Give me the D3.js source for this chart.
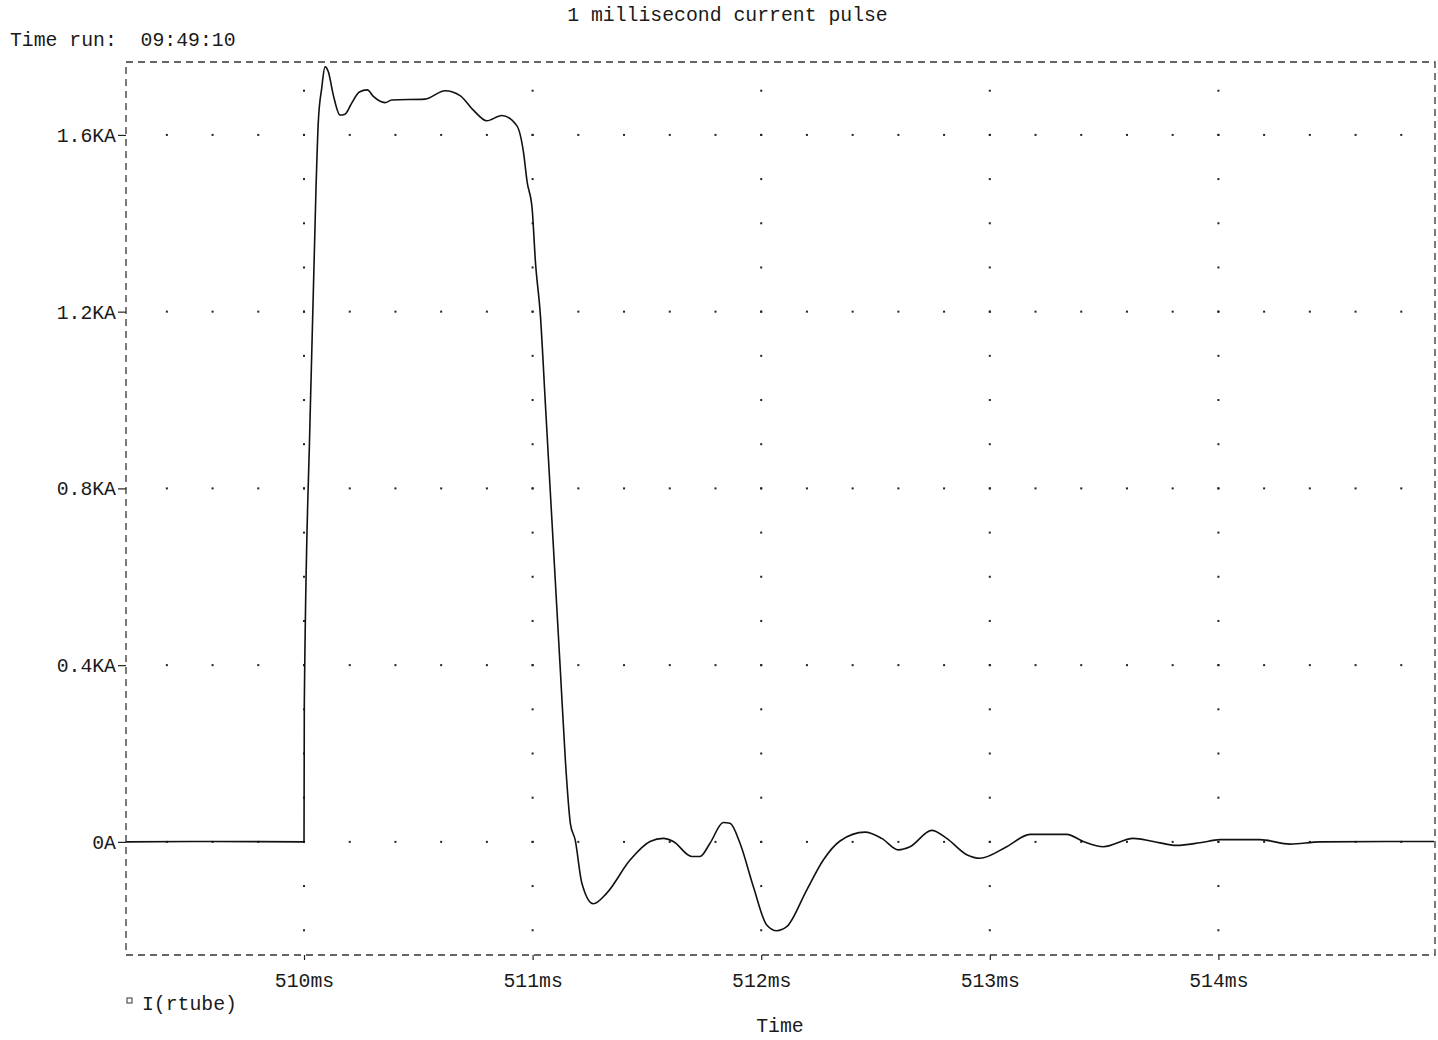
<!DOCTYPE html>
<html>
<head>
<meta charset="utf-8">
<script src="https://cdn.jsdelivr.net/npm/d3@7"></script>
<style>
  html, body { margin: 0; padding: 0; background: #fff; }
  svg text { font-family: "Liberation Mono", "Courier New", monospace; fill: #1a1a1a; }
</style>
</head>
<body>
<svg id="chart" width="1438" height="1040"></svg>
<script>
// Simulated tube current I(rtube): time in ms, current in amperes
const timeMs = [
  509.22, 509.60, 510.000, 510.0013, 510.0263, 510.0525, 510.0626, 510.0775, 510.0919,
  510.1063, 510.1282, 510.1575, 510.1794, 510.2087, 510.2420, 510.2770, 510.3033,
  510.3545, 510.3838, 510.5295, 510.6171, 510.6827, 510.7409, 510.7996, 510.8652,
  510.9309, 510.9597, 510.9759, 510.9978, 511.0123, 511.0341, 511.0560, 511.0779,
  511.0998, 511.1217, 511.1435, 511.1654, 511.1860, 511.2153, 511.2656, 511.3242,
  511.4262, 511.5136, 511.5718, 511.6155, 511.6960, 511.7323, 511.7761, 511.8343,
  511.8636, 511.9073, 511.9655, 512.0241, 512.0679, 512.1116, 512.1991, 512.2717,
  512.3448, 512.4541, 512.5272, 512.5998, 512.6510, 512.7459, 512.8115, 512.8990,
  512.9571, 513.0739, 513.1759, 513.3365, 513.4091, 513.4966, 513.6278, 513.7153,
  513.8177, 513.9196, 514.0071, 514.1821, 514.3134, 514.4446, 514.9433
];
const currentA = [
  0, 1, 0, 310, 955, 1480, 1630, 1706, 1754,
  1743, 1690, 1645, 1647, 1672, 1697, 1702, 1687,
  1673, 1679, 1681, 1700, 1689, 1656, 1632, 1644,
  1621, 1562, 1494, 1434, 1313, 1191, 990, 788,
  586, 385, 183, 41, 5, -93, -140, -116,
  -41, 1, 8, 1, -33, -33, -3, 44,
  42, -3, -101, -188, -201, -192, -109, -41,
  2, 22, 8, -18, -11, 26, 8, -29,
  -37, -11, 17, 17, 1, -11, 8, 1,
  -8, -2, 5, 5, -5, 0, 1
];

// Axis ticks
const xTickValues = [510, 511, 512, 513, 514];
const xTickLabels = ["510ms", "511ms", "512ms", "513ms", "514ms"];
const yTickValues = [0, 400, 800, 1200, 1600];
const yTickLabels = ["0A", "0.4KA", "0.8KA", "1.2KA", "1.6KA"];

// Dotted grid steps
const xDotStep = 0.2;   // ms, along each major current level
const yDotStep = 100;   // A, along each major time mark

const titleText = "1 millisecond current pulse";
const runText = "Time run:  09:49:10";
const xAxisTitle = "Time";
const traceName = "I(rtube)";

const svg = d3.select("#chart");
const plot = { left: 126, right: 1435, top: 62, bottom: 955 };

const x = d3.scaleLinear().domain([509.2213, 514.9475]).range([plot.left, plot.right]);
const y = d3.scaleLinear().domain([-256, 1765]).range([plot.bottom, plot.top]);

const fontSize = "19.8px";

// Title and run stamp
svg.append("text").attr("x", 727.5).attr("y", 20.5)
  .attr("text-anchor", "middle").style("font-size", fontSize).text(titleText);
svg.append("text").attr("x", 10).attr("y", 45.5)
  .attr("xml:space", "preserve").style("white-space", "pre")
  .style("font-size", fontSize).text(runText);

// Dotted grid: rows of dots at major current levels, columns at major times
const dots = svg.append("g").attr("fill", "#222");
const [x0, x1] = x.domain();
const [y0, y1] = y.domain();
const xDots = d3.range(Math.ceil(x0 / xDotStep - 1e-9), Math.floor(x1 / xDotStep + 1e-9) + 1)
  .map(k => +(k * xDotStep).toFixed(4));
const yDots = d3.range(Math.ceil(y0 / yDotStep), Math.floor(y1 / yDotStep) + 1).map(k => k * yDotStep);
yTickValues.forEach(v => {
  xDots.forEach(t => {
    dots.append("rect").attr("x", x(t) - 1).attr("y", y(v) - 1).attr("width", 2).attr("height", 2);
  });
});
xTickValues.forEach(t => {
  yDots.forEach(v => {
    dots.append("rect").attr("x", x(t) - 1).attr("y", y(v) - 1).attr("width", 2).attr("height", 2);
  });
});

// Trace
const pts = timeMs.map((t, i) => [t, currentA[i]]);
const line = d3.line().x(d => x(d[0])).y(d => y(d[1])).curve(d3.curveMonotoneX);
svg.append("path").datum(pts)
  .attr("d", line)
  .attr("fill", "none").attr("stroke", "#111").attr("stroke-width", 1.6)
  .attr("stroke-linejoin", "round");

// Dashed frame
svg.append("rect")
  .attr("x", plot.left).attr("y", plot.top)
  .attr("width", plot.right - plot.left).attr("height", plot.bottom - plot.top)
  .attr("fill", "none").attr("stroke", "#333").attr("stroke-width", 1.3)
  .attr("stroke-dasharray", "7,5");

// Y axis (left)
const yAxis = d3.axisLeft(y).tickValues(yTickValues)
  .tickFormat((d, i) => yTickLabels[i]).tickSize(8).tickPadding(2);
const gy = svg.append("g").attr("transform", `translate(${plot.left},0)`).call(yAxis);
gy.select(".domain").remove();
gy.selectAll(".tick line").attr("stroke", "#222").attr("stroke-width", 1.2);
gy.selectAll(".tick text").style("font-size", fontSize).attr("dy", "0.33em")
  .attr("font-family", null).attr("fill", "#1a1a1a");

// X axis (bottom)
const xAxis = d3.axisBottom(x).tickValues(xTickValues)
  .tickFormat((d, i) => xTickLabels[i]).tickSize(5).tickPadding(13);
const gx = svg.append("g").attr("transform", `translate(0,${plot.bottom})`).call(xAxis);
gx.select(".domain").remove();
gx.selectAll(".tick line").attr("stroke", "#222").attr("stroke-width", 1.2);
gx.selectAll(".tick text").style("font-size", fontSize).attr("dy", "0.71em")
  .attr("font-family", null).attr("fill", "#1a1a1a");

// Axis title
svg.append("text").attr("x", 780).attr("y", 1032)
  .attr("text-anchor", "middle").style("font-size", fontSize).text(xAxisTitle);

// Trace legend
svg.append("rect").attr("x", 127).attr("y", 998).attr("width", 5).attr("height", 5)
  .attr("fill", "none").attr("stroke", "#333").attr("stroke-width", 1);
svg.append("text").attr("x", 142).attr("y", 1009.5)
  .style("font-size", fontSize).text(traceName);
</script>
</body>
</html>
